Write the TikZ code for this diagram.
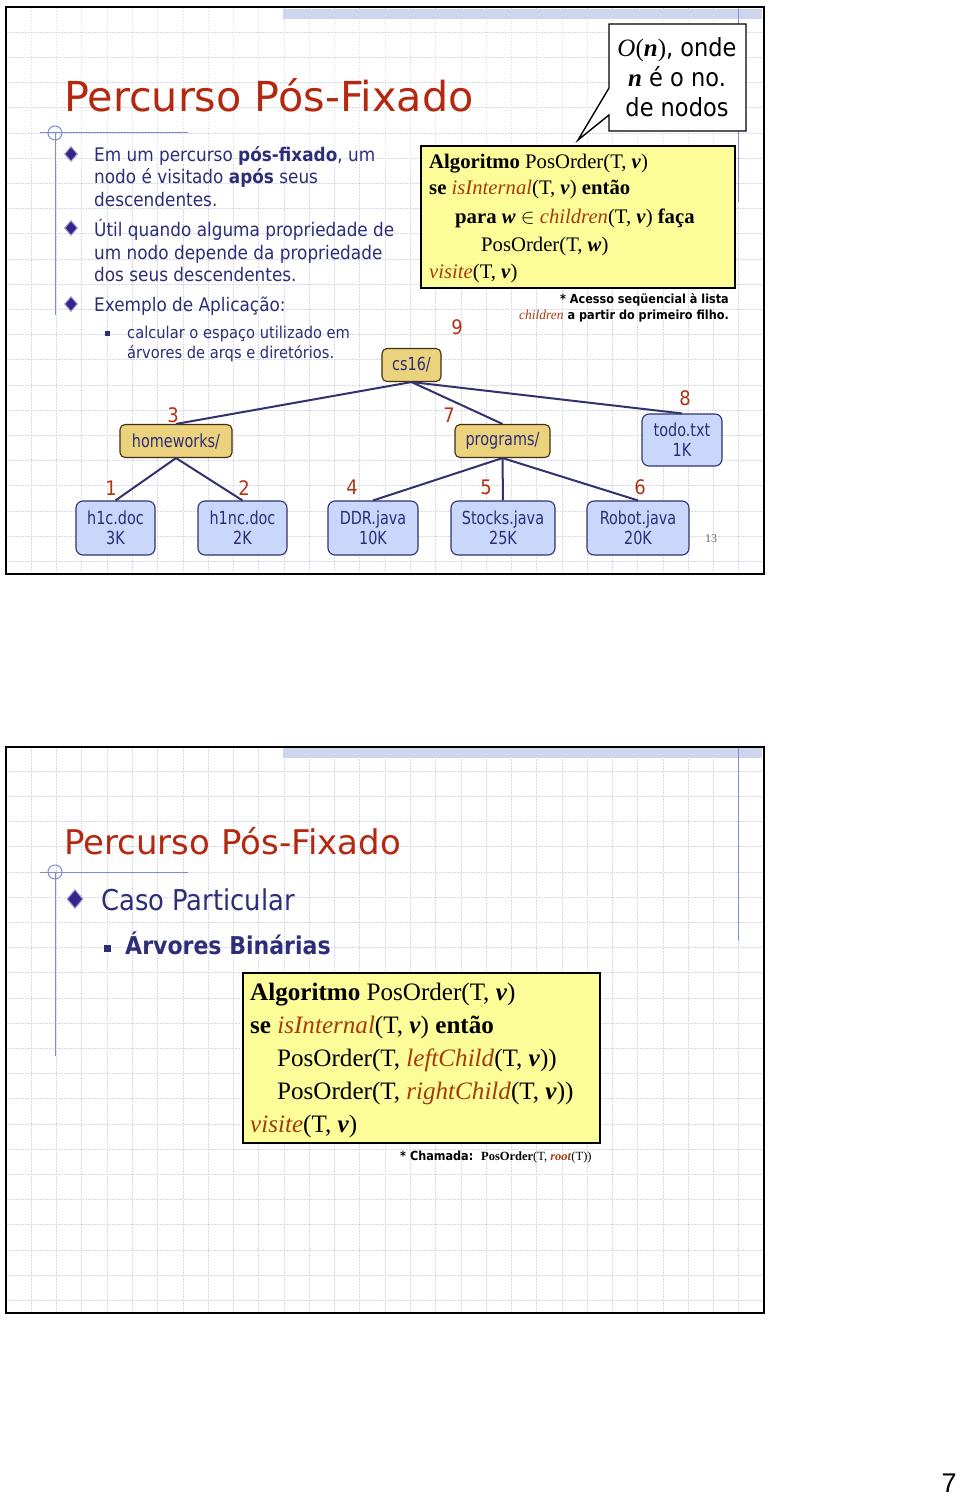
\documentclass[tikz,border=0pt]{standalone}
\usepackage{fontspec}
\setmainfont{Liberation Serif}
\newfontfamily\tah[FakeStretch=0.9]{DejaVu Sans}
\newfontfamily\tahT{DejaVu Sans}
\newfontfamily\tahN[FakeStretch=0.8]{DejaVu Sans}
\newfontfamily\arialf{Liberation Sans}
\usetikzlibrary{shapes.geometric}
\definecolor{titlec}{RGB}{180,40,15}
\definecolor{navyc}{RGB}{45,45,120}
\definecolor{fnc}{RGB}{165,60,15}
\definecolor{yelc}{RGB}{252,252,152}
\definecolor{gridc}{RGB}{212,218,232}
\definecolor{bandc}{RGB}{205,214,236}
\definecolor{linec}{RGB}{130,140,210}
\definecolor{folderc}{RGB}{235,210,125}
\definecolor{filec}{RGB}{200,215,250}
\definecolor{edgec}{RGB}{50,50,110}
\definecolor{numc}{RGB}{180,50,20}
\definecolor{bulc}{RGB}{55,35,140}
\newcommand\fs[2]{\fontsize{#1}{#2}\selectfont}
\newcommand\bv{\textbf{\textit{v}}}
\newcommand\slideframe[1]{%
  \begin{scope}[shift={(0,#1)}]
    \foreach \k in {1,...,29} \draw[gridline] ({6+25.27*\k},8) -- ({6+25.27*\k},573);
    \foreach \k in {1,...,22} \draw[gridline] (7,{7+25.2*\k}) -- (763,{7+25.2*\k});
    \fill[bandc] (283,9) rectangle (762,19);
    \draw[linec, line width=0.8pt] (738,9) -- (738,202);
    \draw[linec, line width=1pt] (40,133) -- (188,133);
    \draw[linec, line width=1pt] (55,133) circle (7);
  \end{scope}}
\tikzset{
  gridline/.style={gridc, line width=0.7pt, dash pattern=on 1.5pt off 1.5pt},
  frame/.style={draw=black, line width=2.5pt},
  txt/.style={inner sep=0pt, anchor=base west},
  body/.style={txt, text=navyc, font=\tah\fs{18.75}{22}},
  subb/.style={txt, text=navyc, font=\tah\fs{16.3}{20}},
  algo/.style={txt, text=black, font=\fs{20.7}{24}},
  algob/.style={txt, text=black, font=\fs{25.1}{30}},
  dbul/.style={diamond, fill=bulc, draw=bulc!45!white, line width=1pt, inner sep=0pt, minimum width=13pt, minimum height=15pt},
  sqbul/.style={rectangle, fill=navyc, inner sep=0pt, minimum size=5pt},
  folder/.style={draw=black!65!brown, fill=folderc, rounded corners=5pt, line width=1.1pt, inner sep=0pt, text=navyc, font=\tahN\fs{18}{20}, align=center},
  filebox/.style={draw=edgec, fill=filec, rounded corners=7pt, line width=1.1pt, inner sep=0pt, text=navyc, font=\tahN\fs{18}{20}, align=center},
  edge/.style={edgec, line width=2pt},
  num/.style={inner sep=0pt, text=numc, font=\tah\fs{20}{22}},
}
\begin{document}
\begin{tikzpicture}[x=1pt, y=-1pt]
\useasboundingbox (0,0) rectangle (960,1498);
\fill[white] (0,0) rectangle (960,1498);

% ================= SLIDE 1 =================
\slideframe{0}
\draw[linec, line width=1pt] (55,133) -- (55,315);

\node[txt, text=titlec, font=\tahT\fs{41.3}{44}] (t1) at (64,112) {Percurso Pós-Fixado};

\node[dbul] (d1) at (71,154) {};
\node[dbul] (d2) at (71,228) {};
\node[dbul] (d3) at (71,304) {};
\node[sqbul] (q1) at (107,333) {};

\node[body] (b1a) at (94,162) {Em um percurso \textbf{pós-fixado}, um};
\node[body] (b1b) at (94,184) {nodo é visitado \textbf{após} seus};
\node[body] (b1c) at (94,207) {descendentes.};
\node[body] (b2a) at (94,236) {Útil quando alguma propriedade de};
\node[body] (b2b) at (94,259) {um nodo depende da propriedade};
\node[body] (b2c) at (94,281) {dos seus descendentes.};
\node[body] (b3) at (94,311) {Exemplo de Aplicação:};
\node[subb] (s1a) at (127,338) {calcular o espaço utilizado em};
\node[subb] (s1b) at (127,358) {árvores de arqs e diretórios.};

% algorithm box
\draw[fill=yelc, draw=black, line width=1.3pt] (421,146) rectangle (735,288);
\node[algo] (a1) at (429,168) {\textbf{Algoritmo} PosOrder(T, \bv)};
\node[algo] (a2) at (429,195) {\textbf{se} \textcolor{fnc}{\textit{isInternal}}(T, \bv) \textbf{então}};
\node[algo] (a3) at (455,223) {\textbf{para \textit{w}} $\in$ \textcolor{fnc}{\textit{children}}(T, \bv) \textbf{faça}};
\node[algo] (a4) at (481,251) {PosOrder(T, \textbf{\textit{w}})};
\node[algo] (a5) at (429,278) {\textcolor{fnc}{\textit{visite}}(T, \bv)};

% callout
\draw[fill=white, draw=black, line width=1.4pt] (609,24) -- (746,24) -- (746,131) -- (609,131) -- (609,115) -- (578,140) -- (609,88) -- cycle;
\node[inner sep=0pt, anchor=base, font=\tah\fs{25}{30}] (c1) at (677,57) {{\rmfamily\textit{O}(\textbf{\textit{n}})}, onde};
\node[inner sep=0pt, anchor=base, font=\tah\fs{25}{30}] (c2) at (677,87) {{\rmfamily\textbf{\textit{n}}} é o no.};
\node[inner sep=0pt, anchor=base, font=\tah\fs{25}{30}] (c3) at (677,117) {de nodos};

% footnote
\node[inner sep=0pt, anchor=base east, font=\tah\bfseries\fs{12.5}{15}] (f1) at (729,303) {* Acesso seqüencial à lista};
\node[inner sep=0pt, anchor=base east, font=\tah\bfseries\fs{12.5}{15}] (f2) at (729,319) {{\rmfamily\mdseries\fs{13.5}{15}\textcolor{fnc}{\textit{children}}} a partir do primeiro filho.};

% tree
\node[folder, minimum width=59pt, minimum height=33pt] (cs) at (411.5,365) {cs16/};
\node[folder, minimum width=112pt, minimum height=33pt] (hw) at (176,441) {homeworks/};
\node[folder, minimum width=95pt, minimum height=33pt] (pg) at (502.5,441) {programs/};
\node[filebox, minimum width=80pt, minimum height=52pt] (todo) at (682,440) {todo.txt\\1K};
\node[filebox, minimum width=79pt, minimum height=54pt] (h1c) at (115.5,528) {h1c.doc\\3K};
\node[filebox, minimum width=89pt, minimum height=54pt] (h1nc) at (242.5,528) {h1nc.doc\\2K};
\node[filebox, minimum width=90pt, minimum height=54pt] (ddr) at (373,528) {DDR.java\\10K};
\node[filebox, minimum width=104pt, minimum height=54pt] (stk) at (503,528) {Stocks.java\\25K};
\node[filebox, minimum width=102pt, minimum height=54pt] (rob) at (638,528) {Robot.java\\20K};

\draw[edge] (cs.south) -- (hw.north);
\draw[edge] (cs.south) -- (pg.north);
\draw[edge] (cs.south) -- (todo.north);
\draw[edge] (hw.south) -- (h1c.north);
\draw[edge] (hw.south) -- (h1nc.north);
\draw[edge] (pg.south) -- (ddr.north);
\draw[edge] (pg.south) -- (stk.north);
\draw[edge] (pg.south) -- (rob.north);

\node[num] (n9) at (457,327) {9};
\node[num] (n3) at (173,415) {3};
\node[num] (n7) at (449,415) {7};
\node[num] (n8) at (685,398) {8};
\node[num] (n1) at (111,488) {1};
\node[num] (n2) at (244,488) {2};
\node[num] (n4) at (352,487) {4};
\node[num] (n5) at (486,487) {5};
\node[num] (n6) at (640,487) {6};

\node[inner sep=0pt, text=black!60, font=\fs{12}{14}] (pn13) at (711,539) {13};

\draw[frame] (6,7) rectangle (764,574);

% ================= SLIDE 2 =================
\slideframe{739}
\draw[linec, line width=1pt] (55,872) -- (55,1056);

\node[txt, text=titlec, font=\tahT\fs{34}{36}] (t2) at (64,854) {Percurso Pós-Fixado};
\node[dbul, minimum width=16pt, minimum height=19pt] (d4) at (75,899) {};
\node[txt, text=navyc, font=\tah\fs{28.7}{30}] (cp) at (101,910) {Caso Particular};
\node[sqbul, minimum size=7pt] (q2) at (107,948) {};
\node[txt, text=navyc, font=\tah\bfseries\fs{24.5}{28}] (ab) at (125,954) {Árvores Binárias};

\draw[fill=yelc, draw=black, line width=1.3pt] (243,973) rectangle (600,1143);
\node[algob] (e1) at (250,1000) {\textbf{Algoritmo} PosOrder(T, \bv)};
\node[algob] (e2) at (250,1033) {\textbf{se} \textcolor{fnc}{\textit{isInternal}}(T, \bv) \textbf{então}};
\node[algob] (e3) at (277,1066) {PosOrder(T, \textcolor{fnc}{\textit{leftChild}}(T, \bv))};
\node[algob] (e4) at (277,1099) {PosOrder(T, \textcolor{fnc}{\textit{rightChild}}(T, \bv))};
\node[algob] (e5) at (250,1132) {\textcolor{fnc}{\textit{visite}}(T, \bv)};

\node[inner sep=0pt, anchor=base west, font=\tah\bfseries\fs{12.5}{15}] (ch) at (400,1160) {* Chamada:\ \ {\rmfamily\fs{12.5}{15}PosOrder\mdseries(T, \textcolor{fnc}{\textbf{\textit{root}}}(T))}};

\draw[frame] (6,747) rectangle (764,1313);

% page number
\node[inner sep=0pt, anchor=base, font=\arialf\fs{27}{30}] (pg7) at (949,1492) {7};
\end{tikzpicture}
\end{document}
